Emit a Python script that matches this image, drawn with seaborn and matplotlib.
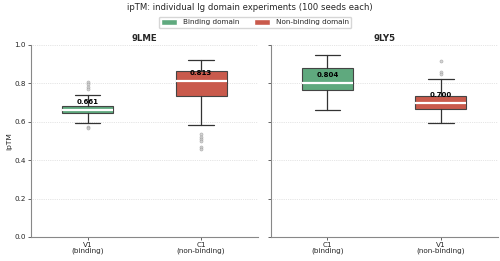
import matplotlib
matplotlib.use("Agg")
import matplotlib.pyplot as plt
import matplotlib.patches as mpatches
import seaborn as sns

# summary stats (ipTM, 100 seeds per domain)
panels = ["9LME", "9LY5"]
domains = [["V1", "C1"], ["C1", "V1"]]
roles = [["binding", "non-binding"], ["binding", "non-binding"]]

medians = [[0.661, 0.813], [0.804, 0.700]]
q1s = [[0.644, 0.736], [0.764, 0.668]]
q3s = [[0.683, 0.864], [0.878, 0.734]]
whis_lo = [[0.592, 0.583], [0.661, 0.593]]
whis_hi = [[0.738, 0.922], [0.949, 0.821]]
outliers = [
    [[0.805, 0.795, 0.783, 0.772, 0.574, 0.566],
     [0.534, 0.522, 0.511, 0.501, 0.466, 0.456]],
    [[],
     [0.916, 0.857, 0.849]],
]

GREEN = "#5fa97e"
RED = "#c95a4c"

sns.set_theme(style="white")
plt.rcParams['font.family'] = ['DejaVu Sans']

fig, axes = plt.subplots(1, 2, figsize=(5, 2.61), dpi=100, sharey=True)
fig.subplots_adjust(left=0.062, right=0.995, top=0.828, bottom=0.092, wspace=0.057)

for p, ax in enumerate(axes):
    stats = []
    for i in range(2):
        stats.append({
            "med": medians[p][i], "q1": q1s[p][i], "q3": q3s[p][i],
            "whislo": whis_lo[p][i], "whishi": whis_hi[p][i],
            "fliers": outliers[p][i],
        })
    bp = ax.bxp(stats, positions=[0, 1], widths=0.45, patch_artist=True,
                boxprops=dict(edgecolor="#444444", linewidth=0.8),
                medianprops=dict(color="white", linewidth=1.6),
                whiskerprops=dict(color="#333333", linewidth=0.9),
                capprops=dict(color="#333333", linewidth=0.9),
                flierprops=dict(marker="o", markersize=2.2, markerfacecolor="#cccccc",
                                markeredgecolor="#999999", markeredgewidth=0.4, alpha=0.8))
    for box, col in zip(bp["boxes"], [GREEN, RED]):
        box.set_facecolor(col)
    for i in range(2):
        ax.text(i, medians[p][i] + 0.04, f"{medians[p][i]:.3f}", ha="center", va="center",
                fontsize=5.0, fontweight="bold", color="black")

    ax.set_xlim(-0.5, 1.5)
    ax.set_ylim(0, 1.0)
    ax.set_yticks([0, 0.2, 0.4, 0.6, 0.8, 1.0])
    ax.set_xticks([0, 1])
    ax.set_xticklabels([f"{d}\n({r})" for d, r in zip(domains[p], roles[p])],
                       fontsize=5.2, linespacing=1.0)
    ax.tick_params(axis="y", labelsize=5.2, length=2, width=0.5, pad=1.5, left=True)
    ax.tick_params(axis="x", length=2, width=0.5, pad=1.5, bottom=True)
    ax.yaxis.grid(True, linestyle=":", linewidth=0.5, color="#cccccc")
    ax.set_axisbelow(True)
    for s in ["top", "right"]:
        ax.spines[s].set_visible(False)
    for s in ["left", "bottom"]:
        ax.spines[s].set_color("#888888")
        ax.spines[s].set_linewidth(0.8)
    ax.set_title(panels[p], fontsize=6.2, fontweight="bold", pad=3)

axes[0].set_ylabel("ipTM", fontsize=5.4, labelpad=2)
axes[1].tick_params(axis="y", labelleft=False)

fig.suptitle("ipTM: individual Ig domain experiments (100 seeds each)", fontsize=6.1, y=0.99)
handles = [mpatches.Patch(facecolor=GREEN, label="Binding domain"),
           mpatches.Patch(facecolor=RED, label="Non-binding domain")]
fig.legend(handles=handles, loc="upper center", bbox_to_anchor=(0.51, 0.95), ncol=2,
           fontsize=5.2, frameon=True, handlelength=2.2, handleheight=0.8,
           columnspacing=2.0, borderpad=0.35, edgecolor="#cccccc", fancybox=True)

fig.savefig("out.png", dpi=100)
